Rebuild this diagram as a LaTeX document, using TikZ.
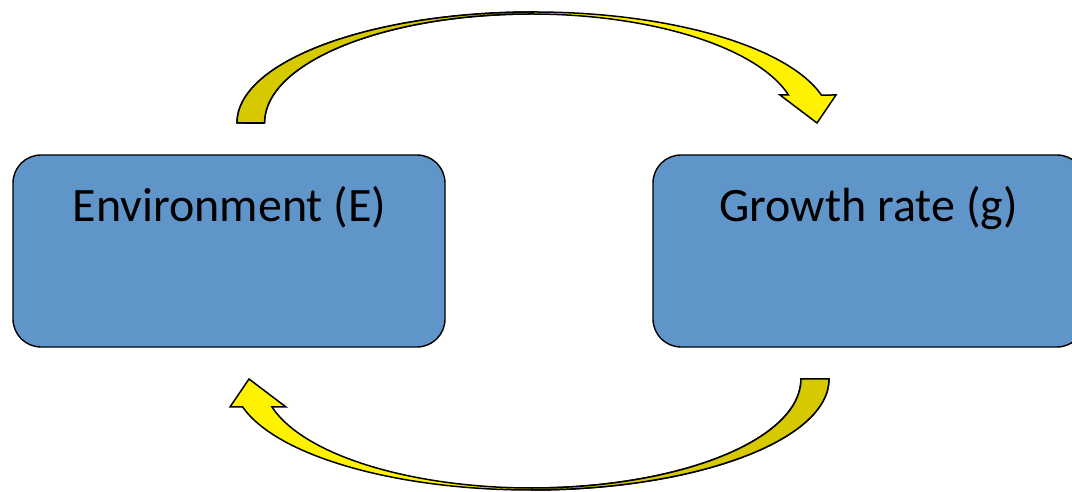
\documentclass[tikz,border=0pt]{standalone}
\usepackage{fontspec}
\setmainfont{Carlito}
\definecolor{boxblue}{RGB}{96,149,201}
\definecolor{arrowyellow}{RGB}{255,242,0}
\definecolor{arrowdark}{RGB}{214,201,0}
\begin{document}
\begin{tikzpicture}[x=1pt,y=1pt,
  stage/.style={draw=black, line width=1.4pt, fill=boxblue, rounded corners=28pt,
                minimum width=432pt, minimum height=192pt, inner sep=0pt},
  caption/.style={font=\fontsize{48}{58}\selectfont, anchor=base},
  band/.style={draw=black, line width=1.5pt, line join=miter, fill=arrowyellow},
  bandback/.style={draw=black, line width=1.5pt, line join=round, fill=arrowdark}]
\useasboundingbox (0,0) rectangle (1072,492);
\clip (0,0) rectangle (1072,492);

% the two stages
\node[stage] (envbox) at (229,241) {};
\node[stage] (grbox) at (869,241) {};
\node[caption] (env) at (229.5,270) {Environment (E)};
\node[caption] (gr) at (868.7,270) {Growth rate (g)};

% upper curved arrow: from the environment to the growth rate
\draw[band] (237,369)
  arc[start angle=180, end angle=14.6, x radius=297, y radius=111]
  -- (836,397) -- (817,369) -- (780,397) -- (788.5,397)
  arc[start angle=14.9, end angle=180, x radius=266.5, y radius=109] -- cycle;
\draw[bandback] (237,369)
  arc[start angle=180, end angle=90, x radius=297, y radius=111]
  -- (531,478)
  arc[start angle=90, end angle=180, x radius=266.5, y radius=109] -- cycle;

% lower curved arrow: from the growth rate back to the environment
\draw[band] (829,113)
  arc[start angle=0, end angle=-165.4, x radius=298, y radius=111]
  -- (230,85) -- (249,113) -- (286,85) -- (272,85)
  arc[start angle=-165.1, end angle=0, x radius=269, y radius=109] -- cycle;
\draw[bandback] (829,113)
  arc[start angle=0, end angle=-90, x radius=298, y radius=111]
  -- (532,4)
  arc[start angle=-90, end angle=0, x radius=269, y radius=109] -- cycle;
\end{tikzpicture}
\end{document}
